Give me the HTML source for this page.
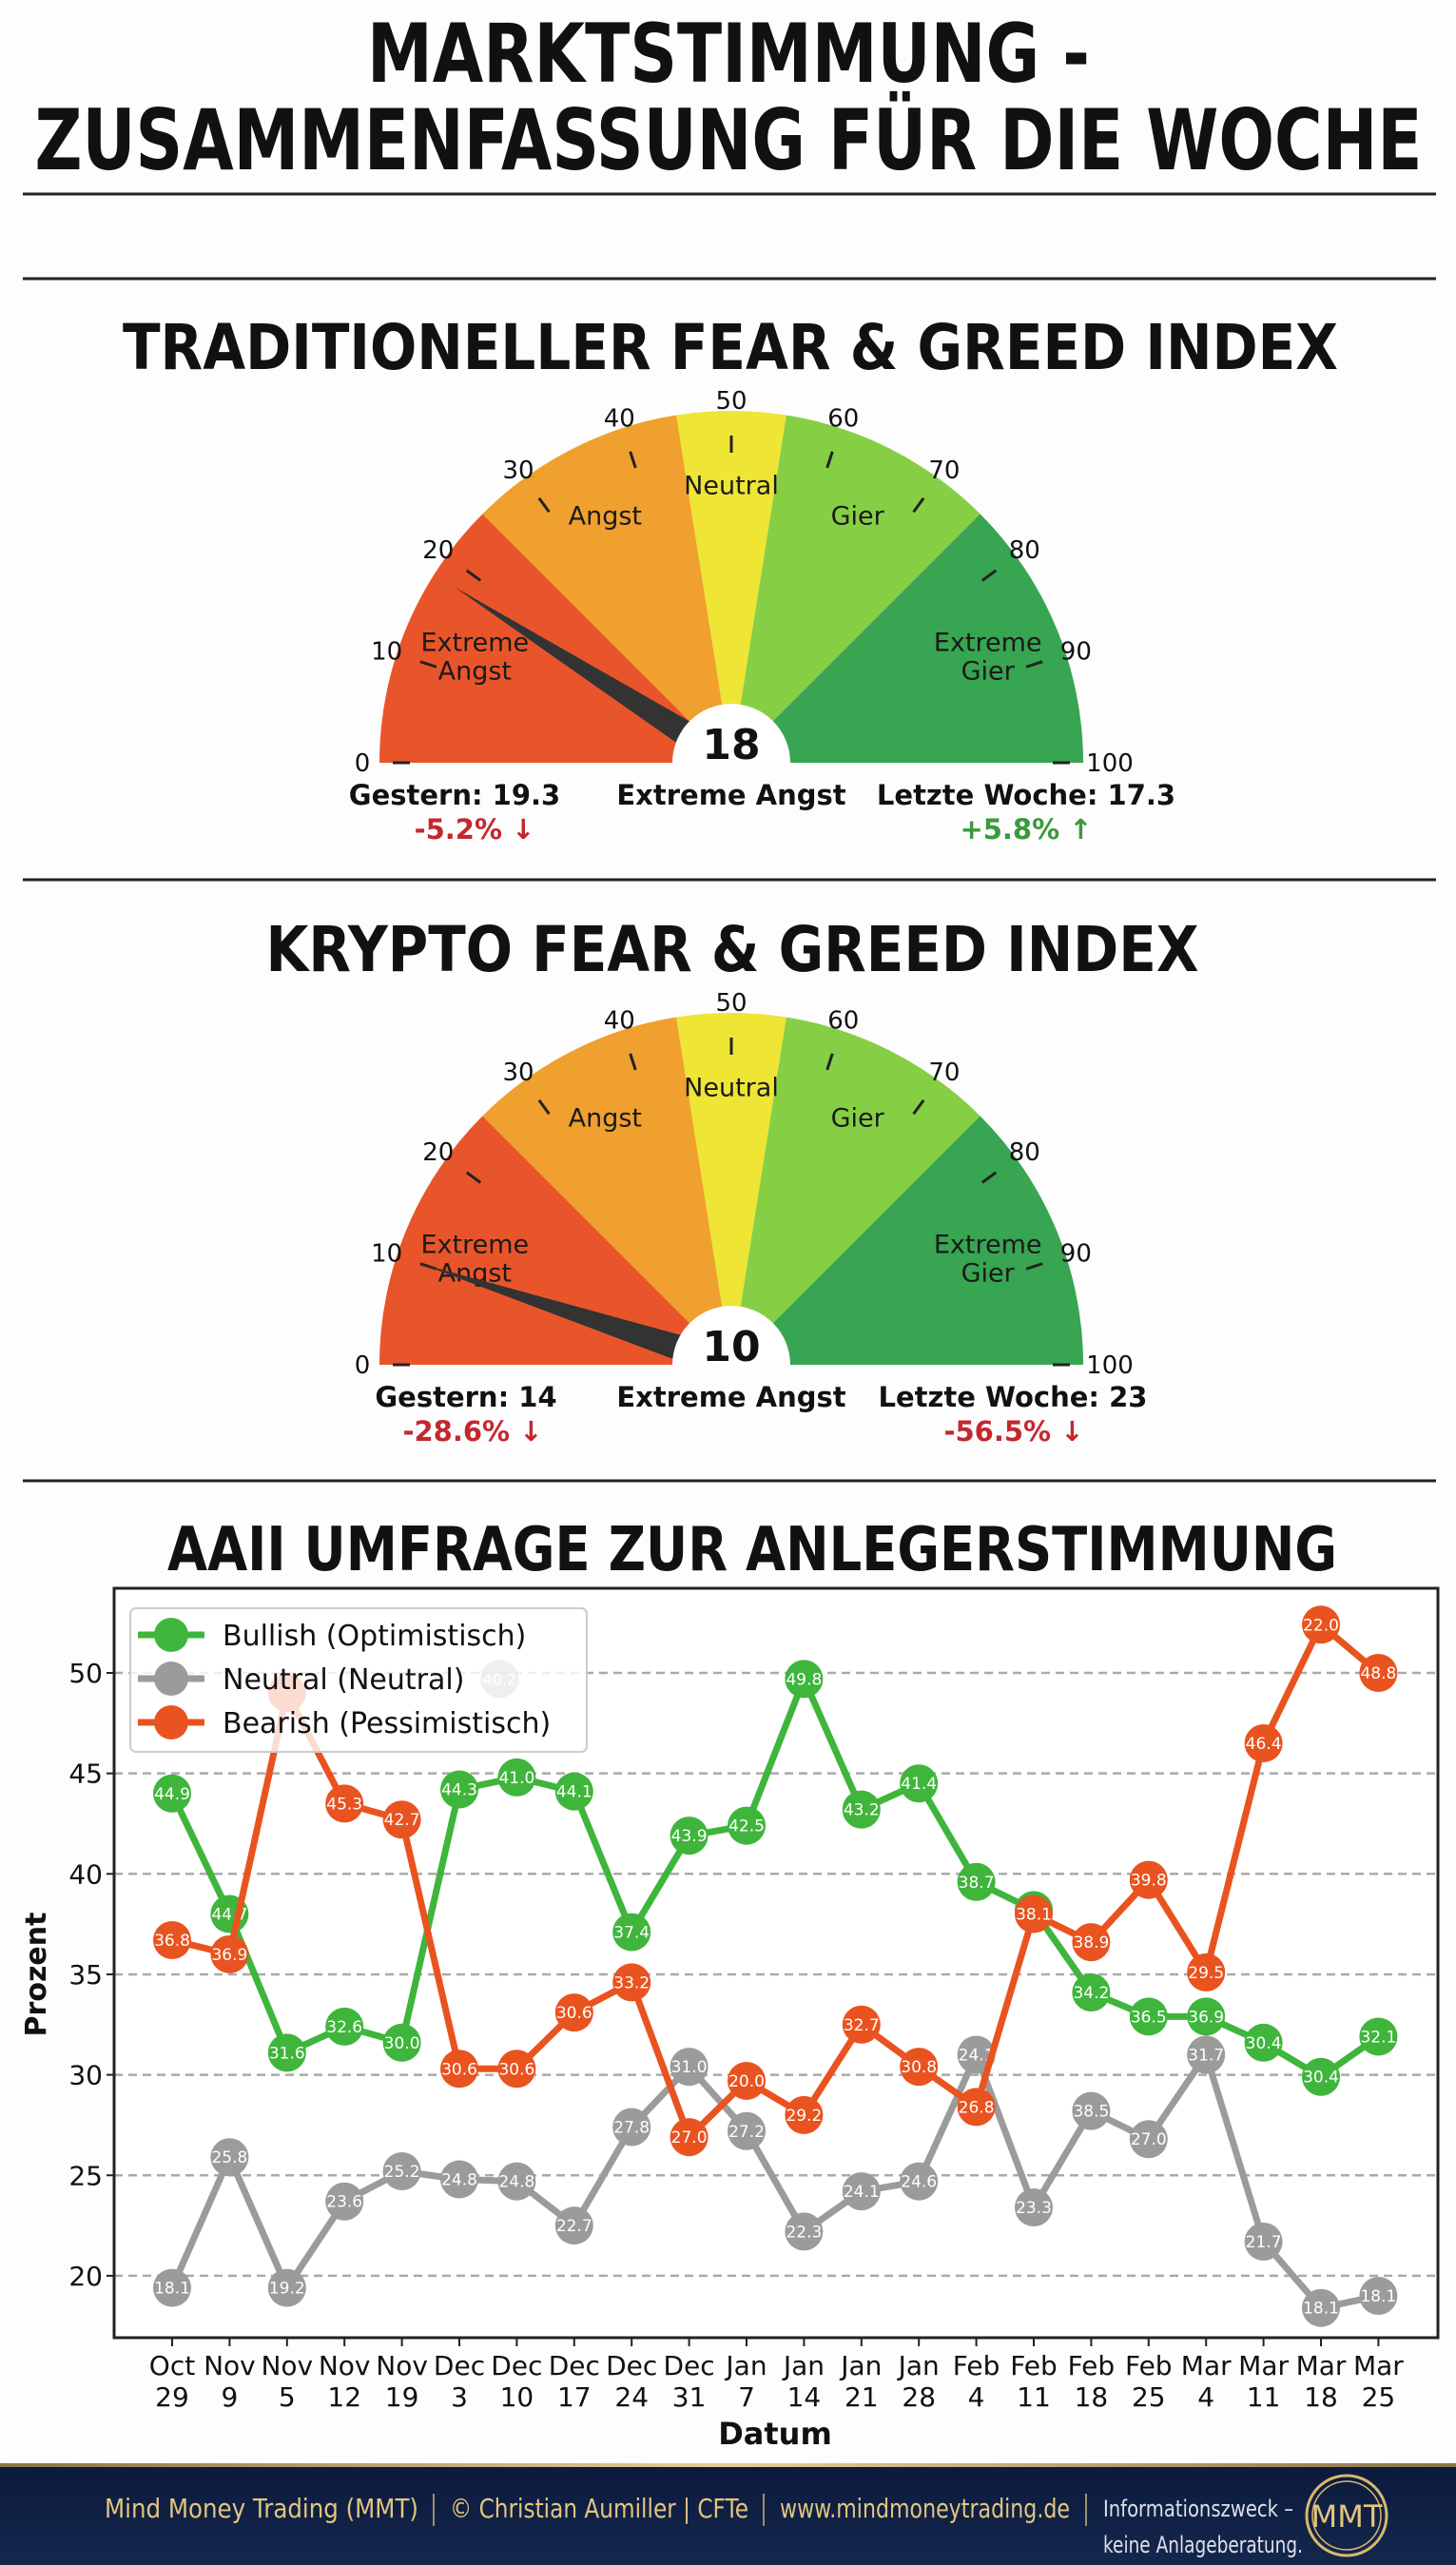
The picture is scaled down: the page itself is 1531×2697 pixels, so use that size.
<!DOCTYPE html>
<html><head><meta charset="utf-8">
<style>
html,body{margin:0;padding:0;background:#fdfdfd;}
svg{display:block;}
text{font-family:"DejaVu Sans","Liberation Sans",sans-serif;}
</style></head>
<body>
<svg id="root" width="1531" height="2697" viewBox="0 0 1531 2697" xmlns="http://www.w3.org/2000/svg">
<defs>
<linearGradient id="foot" x1="0" y1="0" x2="0" y2="1">
<stop offset="0" stop-color="#0c1a3c"/><stop offset="1" stop-color="#14274d"/>
</linearGradient>
<linearGradient id="gold" x1="0" y1="0" x2="1" y2="0">
<stop offset="0" stop-color="#8a7448"/><stop offset="0.5" stop-color="#e6cf92"/><stop offset="1" stop-color="#8a7448"/>
</linearGradient>
<clipPath id="clip0"><rect x="0" y="0" width="1531" height="802"/></clipPath>
<clipPath id="clip1"><rect x="0" y="900" width="1531" height="535"/></clipPath>
</defs>
<rect x="0" y="0" width="1531" height="2697" fill="#fdfdfd"/>
<g font-weight="bold" fill="#111" text-anchor="middle">
<text x="766" y="86" font-size="86" textLength="760" lengthAdjust="spacingAndGlyphs">MARKTSTIMMUNG -</text>
<text x="766" y="178" font-size="88" textLength="1459" lengthAdjust="spacingAndGlyphs">ZUSAMMENFASSUNG FÜR DIE WOCHE</text>
</g>
<line x1="24" y1="204" x2="1510" y2="204" stroke="#222" stroke-width="3"/>
<line x1="24" y1="293" x2="1510" y2="293" stroke="#222" stroke-width="3"/>
<line x1="24" y1="925" x2="1510" y2="925" stroke="#222" stroke-width="3"/>
<line x1="24" y1="1557" x2="1510" y2="1557" stroke="#222" stroke-width="3"/>
<text x="768" y="388" font-size="66" font-weight="bold" text-anchor="middle" textLength="1278" lengthAdjust="spacingAndGlyphs" fill="#111">TRADITIONELLER FEAR &amp; GREED INDEX</text>
<text x="770" y="1021" font-size="66" font-weight="bold" text-anchor="middle" textLength="981" lengthAdjust="spacingAndGlyphs" fill="#111">KRYPTO FEAR &amp; GREED INDEX</text>
<text x="791" y="1651" font-size="64" font-weight="bold" text-anchor="middle" textLength="1230" lengthAdjust="spacingAndGlyphs" fill="#111">AAII UMFRAGE ZUR ANLEGERSTIMMUNG</text>
<g id="gauges"></g>
<g id="chart"></g>
<g>
<rect x="0" y="2590" width="1531" height="107" fill="url(#foot)"/>
<rect x="0" y="2590" width="1531" height="4" fill="url(#gold)"/>
<g font-family="Liberation Sans Narrow, Liberation Sans, sans-serif" font-size="28" fill="#e3c57e">
<text x="110" y="2647" textLength="330" lengthAdjust="spacingAndGlyphs">Mind Money Trading (MMT)</text>
<text x="473" y="2647" textLength="314" lengthAdjust="spacingAndGlyphs">© Christian Aumiller | CFTe</text>
<text x="820" y="2647" textLength="305" lengthAdjust="spacingAndGlyphs">www.mindmoneytrading.de</text>
</g>
<line x1="456" y1="2622" x2="456" y2="2656" stroke="#cdb37a" stroke-width="1.5"/>
<line x1="803" y1="2622" x2="803" y2="2656" stroke="#cdb37a" stroke-width="1.5"/>
<line x1="1142" y1="2622" x2="1142" y2="2656" stroke="#cdb37a" stroke-width="1.5"/>
<g font-family="Liberation Sans Narrow, Liberation Sans, sans-serif" font-size="24" fill="#dde0e8">
<text x="1160" y="2646" textLength="200" lengthAdjust="spacingAndGlyphs">Informationszweck –</text>
<text x="1160" y="2684" textLength="210" lengthAdjust="spacingAndGlyphs">keine Anlageberatung.</text>
</g>
<g>
<circle cx="1416" cy="2645" r="42" fill="none" stroke="#d8b86e" stroke-width="3"/>
<circle cx="1416" cy="2645" r="36" fill="none" stroke="#d8b86e" stroke-width="1.5"/>
<text x="1416" y="2657" font-family="Liberation Sans Narrow, Liberation Sans, sans-serif" font-size="32" fill="#e3c57e" text-anchor="middle">MMT</text>
</g>
</g>
</svg>
<script>
// ---- Gauge data ----
var gaugeValues = [18, 10];
var gaugeStates = ["Extreme Angst", "Extreme Angst"];
var gaugeYesterday = ["Gestern: 19.3", "Gestern: 14"];
var gaugeYesterdayChange = ["-5.2% \u2193", "-28.6% \u2193"];
var gaugeLastWeek = ["Letzte Woche: 17.3", "Letzte Woche: 23"];
var gaugeLastWeekChange = ["+5.8% \u2191", "-56.5% \u2193"];
var gaugeLastWeekUp = [true, false];
var zoneBounds = [0, 25, 45, 55, 75, 100];
var zoneColors = ["#e9552a", "#f0a02e", "#eee534", "#86cf45", "#37a551"];
var gaugeTicks = [0, 10, 20, 30, 40, 50, 60, 70, 80, 90, 100];

// ---- AAII chart data ----
var dateMonths = ["Oct","Nov","Nov","Nov","Nov","Dec","Dec","Dec","Dec","Dec","Jan","Jan","Jan","Jan","Feb","Feb","Feb","Feb","Mar","Mar","Mar","Mar"];
var dateDays = ["29","9","5","12","19","3","10","17","24","31","7","14","21","28","4","11","18","25","4","11","18","25"];
var bullish = [44.0,38.0,31.1,32.4,31.6,44.2,44.8,44.1,37.1,41.9,42.4,49.7,43.2,44.5,39.6,38.2,34.1,32.9,32.9,31.6,29.9,31.9];
var bullishLabels = ["44.9","44.7","31.6","32.6","30.0","44.3","41.0","44.1","37.4","43.9","42.5","49.8","43.2","41.4","38.7","","34.2","36.5","36.9","30.4","30.4","32.1"];
var neutral = [19.4,25.9,19.4,23.7,25.2,24.8,24.7,22.5,27.4,30.4,27.2,22.2,24.2,24.7,31.0,23.4,28.2,26.8,31.0,21.7,18.4,19.0];
var neutralLabels = ["18.1","25.8","19.2","23.6","25.2","24.8","24.8","22.7","27.8","31.0","27.2","22.3","24.1","24.6","24.1","23.3","38.5","27.0","31.7","21.7","18.1","18.1"];
var bearish = [36.7,36.0,49.0,43.5,42.7,30.3,30.3,33.1,34.6,26.9,29.7,28.0,32.5,30.4,28.4,38.0,36.6,39.7,35.1,46.5,52.4,50.0];
var bearishLabels = ["36.8","36.9","","45.3","42.7","30.6","30.6","30.6","33.2","27.0","20.0","29.2","32.7","30.8","26.8","38.1","38.9","39.8","29.5","46.4","22.0","48.8"];
var yTicks = [20, 25, 30, 35, 40, 45, 50];
var yTickLabels = ["20", "25", "30", "35", "40", "45", "50"];
var strayIndex = 5.7, strayValue = 49.7, strayLabel = "40.2";

var NS = "http://www.w3.org/2000/svg";
function mk(tag, attrs, parent) {
  var e = document.createElementNS(NS, tag);
  for (var k in attrs) e.setAttribute(k, attrs[k]);
  if (parent) parent.appendChild(e);
  return e;
}

// ---------- gauges ----------
var gRoot = document.getElementById("gauges");
var gaugeCY = [802, 1435];
var CX = 769, R = 370, RIN = 62;
function ang(v) { return Math.PI * (1 - v / 100); }
function pt(v, r, cy) { var a = ang(v); return [CX + r * Math.cos(a), cy - r * Math.sin(a)]; }
var zoneNames = [["Extreme","Angst"],["Angst"],["Neutral"],["Gier"],["Extreme","Gier"]];
var zoneLabelPos = [[12.6, 0.79],[35, 0.79],[50, 0.79],[65, 0.79],[87.4, 0.79]];
for (var gi = 0; gi < gaugeValues.length; gi++) {
  var cy = gaugeCY[gi];
  var g = mk("g", {}, gRoot);
  
  
  for (var z = 0; z < zoneColors.length; z++) {
    var p1 = pt(zoneBounds[z], R, cy), p2 = pt(zoneBounds[z + 1], R, cy);
    var seg = mk("path", { d: "M" + CX + " " + cy + " L" + p1[0] + " " + p1[1] + " A" + R + " " + R + " 0 0 1 " + p2[0] + " " + p2[1] + " Z", fill: zoneColors[z] }, g);
    
    
  }
  for (var t = 0; t < gaugeTicks.length; t++) {
    var v = gaugeTicks[t];
    var a1 = pt(v, 326, cy), a2 = pt(v, 344, cy);
    if (v === 0 || v === 100) { a1 = pt(v, 338, cy); a2 = pt(v, 356, cy); }
    var tk = mk("line", { x1: a1[0], y1: a1[1], x2: a2[0], y2: a2[1], stroke: "#222", "stroke-width": 3 }, g);
    
    
    var lp = pt(v, v === 100 ? 398 : (v === 0 ? 388 : 381), cy);
    var tl = mk("text", { x: lp[0], y: lp[1] + 9, "font-size": 26, "text-anchor": "middle", fill: "#111" }, g);
    tl.textContent = String(v);
    
    
  }
  for (var z2 = 0; z2 < zoneNames.length; z2++) {
    var lp2 = pt(zoneLabelPos[z2][0], R * zoneLabelPos[z2][1], cy);
    var lines = zoneNames[z2];
    for (var li = 0; li < lines.length; li++) {
      var zt = mk("text", { x: lp2[0], y: lp2[1] + 10 + (li - (lines.length - 1) / 2) * 30, "font-size": 27, "text-anchor": "middle", fill: "#1a1a1a" }, g);
      zt.textContent = lines[li];
      
      
    }
  }
  // needle
  var val = gaugeValues[gi], an = ang(val);
  var tip = pt(val, 345, cy);
  var px = Math.sin(an) * 16, py = Math.cos(an) * 16;
  var nd = mk("polygon", { points: (CX + px) + "," + (cy + py) + " " + (CX - px) + "," + (cy - py) + " " + tip[0] + "," + tip[1], fill: "#333", "clip-path": "url(#clip" + gi + ")" }, g);
  
  
  var hub = mk("path", { d: "M" + (CX - RIN) + " " + cy + " A" + RIN + " " + RIN + " 0 0 1 " + (CX + RIN) + " " + cy + " Z", fill: "#fff" }, g);
  
  
  var vt = mk("text", { x: CX, y: cy - 4, "font-size": 44, "font-weight": "bold", "text-anchor": "middle", fill: "#111" }, g);
  vt.textContent = String(val);
  
  
  var s1 = mk("text", { x: CX, y: cy + 44, "font-size": 29, "font-weight": "bold", "text-anchor": "middle", fill: "#111" }, g);
  s1.textContent = gaugeStates[gi];
  
  
  var ys = mk("text", { x: gi === 0 ? 478 : 490, y: cy + 44, "font-size": 29, "font-weight": "bold", "text-anchor": "middle", fill: "#111" }, g);
  ys.textContent = gaugeYesterday[gi];
  
  
  var yc = mk("text", { x: gi === 0 ? 499 : 497, y: cy + 80, "font-size": 29, "font-weight": "bold", "text-anchor": "middle", fill: "#c3282e" }, g);
  yc.textContent = gaugeYesterdayChange[gi];
  
  
  var lw = mk("text", { x: gi === 0 ? 1079 : 1065, y: cy + 44, "font-size": 29, "font-weight": "bold", "text-anchor": "middle", fill: "#111" }, g);
  lw.textContent = gaugeLastWeek[gi];
  
  
  var lc = mk("text", { x: gi === 0 ? 1079 : 1066, y: cy + 80, "font-size": 29, "font-weight": "bold", "text-anchor": "middle", fill: gaugeLastWeekUp[gi] ? "#3a9a3a" : "#c3282e" }, g);
  lc.textContent = gaugeLastWeekChange[gi];
  
  
}

// ---------- AAII chart ----------
var ch = document.getElementById("chart");
var PL = 120, PR = 1512, PT = 1670, PB = 2458;
var X0 = 181, DX = 60.4;
function xs(i) { return X0 + i * DX; }
function ys2(v) { return 1759 + (50 - v) * 21.13; }
var frameBg = mk("rect", { x: PL, y: PT, width: PR - PL, height: PB - PT, fill: "#fff" }, ch);


for (var k = 0; k < yTicks.length; k++) {
  var yy = ys2(yTicks[k]);
  var gl = mk("line", { x1: PL, y1: yy, x2: PR, y2: yy, stroke: "#aaa", "stroke-width": 2.5, "stroke-dasharray": "9,6" }, ch);
  
  
  var tm = mk("line", { x1: PL - 8, y1: yy, x2: PL, y2: yy, stroke: "#222", "stroke-width": 2 }, ch);
  
  
  var tl2 = mk("text", { x: PL - 12, y: yy + 10, "font-size": 28, "text-anchor": "end", fill: "#111", "font-family": "Liberation Sans, sans-serif" }, ch);
  tl2.textContent = yTickLabels[k];
  
  
}
for (var i = 0; i < dateMonths.length; i++) {
  var xx = xs(i);
  var xt = mk("line", { x1: xx, y1: PB, x2: xx, y2: PB + 9, stroke: "#222", "stroke-width": 2 }, ch);
  
  
  var xl = mk("text", { x: xx, y: 2497, "font-size": 28, "text-anchor": "middle", fill: "#111", "font-family": "Liberation Sans, sans-serif" }, ch);
  xl.textContent = dateMonths[i];
  
  
  var xl2 = mk("text", { x: xx, y: 2530, "font-size": 28, "text-anchor": "middle", fill: "#111", "font-family": "Liberation Sans, sans-serif" }, ch);
  xl2.textContent = dateDays[i];
  
  
}
var xa = mk("text", { x: 815, y: 2570, "font-size": 32, "font-weight": "bold", "text-anchor": "middle", fill: "#111" }, ch);
xa.textContent = "Datum";


var ya = mk("text", { x: 0, y: 0, "font-size": 30, "font-weight": "bold", "text-anchor": "middle", fill: "#111", transform: "translate(48,2076) rotate(-90)" }, ch);
ya.textContent = "Prozent";



function series(vals, labels, color, name) {
  var sg = mk("g", {}, ch);
  
  
  var d = "";
  for (var i = 0; i < vals.length; i++) d += (i ? "L" : "M") + xs(i) + " " + ys2(vals[i]);
  var ln = mk("path", { d: d, fill: "none", stroke: color, "stroke-width": 7, "stroke-linejoin": "round" }, sg);
  
  
  for (var j = 0; j < vals.length; j++) {
    var c = mk("circle", { cx: xs(j), cy: ys2(vals[j]), r: 20, fill: color }, sg);
    
    
    if (labels[j]) {
      var lt = mk("text", { x: xs(j), y: ys2(vals[j]) + 6, "font-size": 17, "text-anchor": "middle", fill: "#fff", "font-family": "Liberation Sans, sans-serif" }, sg);
      lt.textContent = labels[j];
      
      
    }
  }
}
series(neutral, neutralLabels, "#9b9b9b", "neutral");
series(bullish, bullishLabels, "#3fb53c", "bullish");
series(bearish, bearishLabels, "#e9531f", "bearish");
var sc = mk("circle", { cx: xs(strayIndex), cy: ys2(strayValue), r: 20, fill: "#9b9b9b", opacity: 0.8 }, ch);


var st = mk("text", { x: xs(strayIndex), y: ys2(strayValue) + 6, "font-size": 16, "text-anchor": "middle", fill: "#fff" }, ch);
st.textContent = strayLabel;



var frame = mk("rect", { x: PL, y: PT, width: PR - PL, height: PB - PT, fill: "none", stroke: "#222", "stroke-width": 3 }, ch);



// legend
var lg = mk("g", {}, ch);


var lb = mk("rect", { x: 137, y: 1691, width: 480, height: 151, rx: 6, fill: "#fff", "fill-opacity": 0.8, stroke: "#ccc", "stroke-width": 2 }, lg);


var legNames = ["Bullish (Optimistisch)", "Neutral (Neutral)", "Bearish (Pessimistisch)"];
var legColors = ["#3fb53c", "#9b9b9b", "#e9531f"];
for (var m = 0; m < 3; m++) {
  var ly = 1719 + m * 46;
  var ll = mk("line", { x1: 145, y1: ly, x2: 215, y2: ly, stroke: legColors[m], "stroke-width": 7 }, lg);
  
  
  var lc2 = mk("circle", { cx: 180, cy: ly, r: 18, fill: legColors[m] }, lg);
  
  
  var ltx = mk("text", { x: 234, y: ly + 11, "font-size": 30, fill: "#111", "font-family": "Liberation Sans, sans-serif" }, lg);
  ltx.textContent = legNames[m];
  
  
}
</script>
</body></html>
